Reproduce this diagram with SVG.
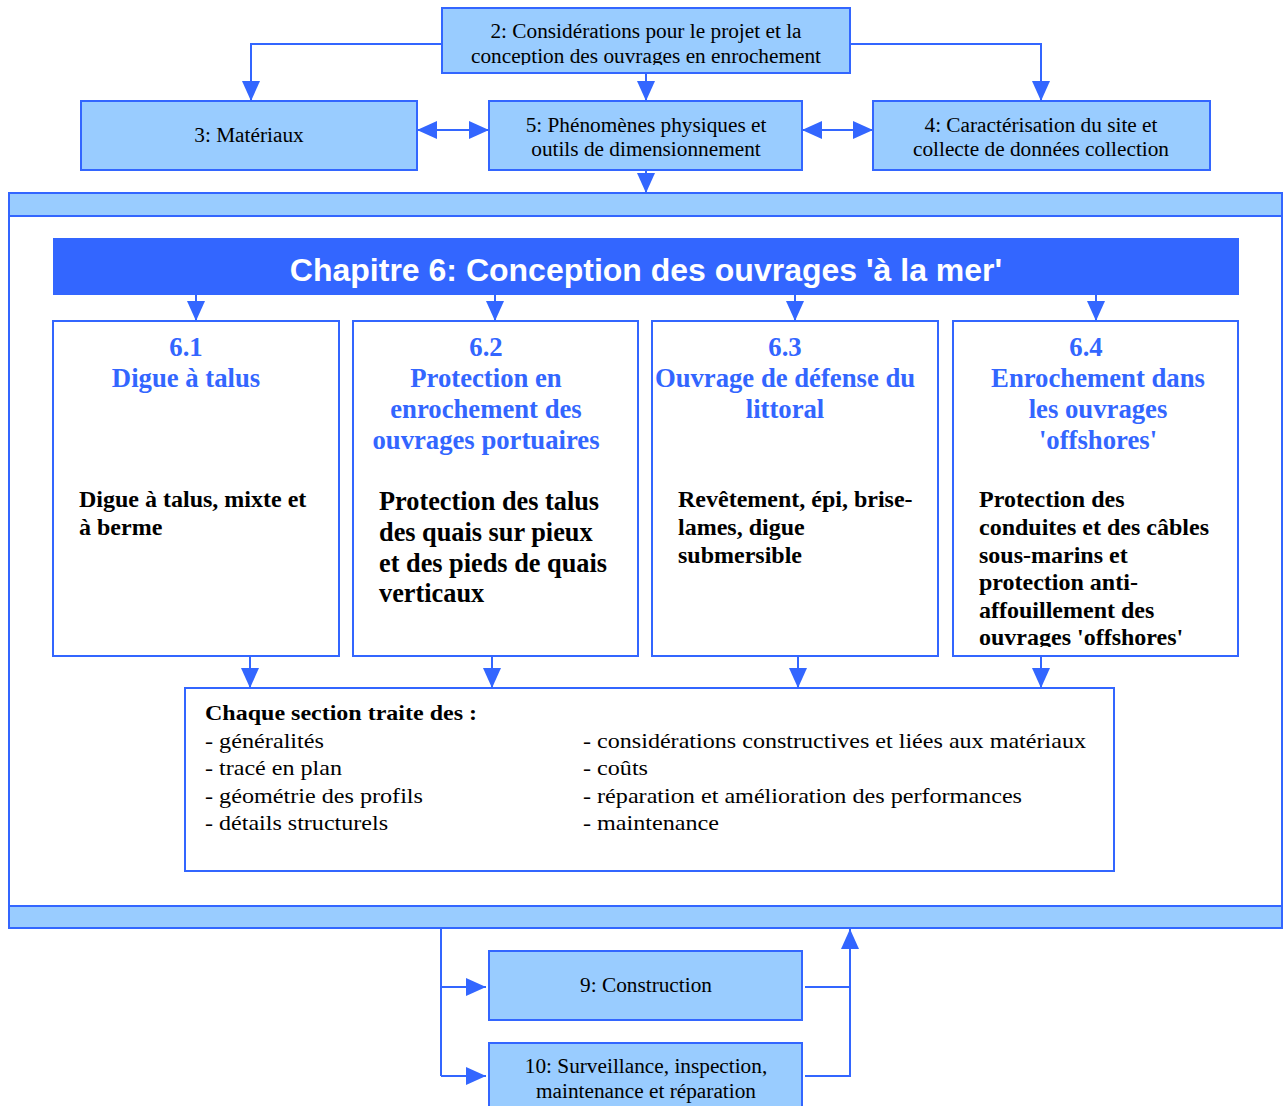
<svg xmlns="http://www.w3.org/2000/svg" width="1284" height="1106" viewBox="0 0 1284 1106">
<style>
.lb{fill:#99ccff;stroke:#3366ff;stroke-width:2}
.wb{fill:#ffffff;stroke:#3366ff;stroke-width:2}
.t{font-family:"Liberation Serif","Times New Roman",serif;font-size:21.3px;fill:#000}
.ti{font-family:"Liberation Serif","Times New Roman",serif;font-size:26.7px;font-weight:bold;fill:#3366ff}
.bd{font-family:"Liberation Serif","Times New Roman",serif;font-size:24px;font-weight:bold;fill:#000}
.bd2{font-family:"Liberation Serif","Times New Roman",serif;font-size:26.3px;font-weight:bold;fill:#000}
.st{font-family:"Liberation Serif","Times New Roman",serif;font-size:22px;fill:#000}
.c{stroke:#3366ff;stroke-width:2;fill:none}
</style>
<defs>
<marker id="ah" markerUnits="userSpaceOnUse" markerWidth="20" markerHeight="18" refX="20" refY="9" orient="auto-start-reverse">
<path d="M0,0 L20,9 L0,18 z" fill="#3366ff"/>
</marker>
<clipPath id="c2"><rect x="442" y="8" width="408" height="57"/></clipPath>
<clipPath id="c64"><rect x="953" y="321" width="285" height="326"/></clipPath>
</defs>
<rect width="1284" height="1106" fill="#ffffff"/>

<g id="frame">
<rect class="wb" x="9" y="193" width="1273" height="735"/>
<rect class="lb" x="9" y="193" width="1273" height="23"/>
<rect class="lb" x="9" y="906" width="1273" height="22"/>
</g>

<g id="n2">
<rect class="lb" x="442" y="8" width="408" height="65"/>
<g clip-path="url(#c2)">
<text class="t" x="646" y="38" text-anchor="middle" font-size="22.5">2: Considérations pour le projet et la</text>
<text class="t" x="646" y="63" text-anchor="middle" font-size="22.5">conception des ouvrages en enrochement</text>
</g>
</g>
<g id="n3">
<rect class="lb" x="81" y="101" width="336" height="69"/>
<text class="t" x="249" y="142" text-anchor="middle">3: Matériaux</text>
</g>
<g id="n5">
<rect class="lb" x="489" y="101" width="313" height="69"/>
<text class="t" x="646" y="132" text-anchor="middle">5: Phénomènes physiques et</text>
<text class="t" x="646" y="156" text-anchor="middle">outils de dimensionnement</text>
</g>
<g id="n4">
<rect class="lb" x="873" y="101" width="337" height="69"/>
<text class="t" x="1041" y="132" text-anchor="middle">4: Caractérisation du site et</text>
<text class="t" x="1041" y="156" text-anchor="middle">collecte de données collection</text>
</g>

<g id="banner">
<rect x="53" y="238" width="1186" height="57" fill="#3366ff"/>
<text x="646" y="281" text-anchor="middle" font-family="Liberation Sans, Arial, sans-serif" font-size="32" font-weight="bold" fill="#ffffff">Chapitre 6: Conception des ouvrages 'à la mer'</text>
</g>

<g id="s61">
<rect class="wb" x="53" y="321" width="286" height="335"/>
<text class="ti" x="186" y="356" text-anchor="middle">6.1</text>
<text class="ti" x="186" y="387" text-anchor="middle">Digue à talus</text>
<text class="bd" x="79" y="507">Digue à talus, mixte et</text>
<text class="bd" x="79" y="535">à berme</text>
</g>
<g id="s62">
<rect class="wb" x="353" y="321" width="285" height="335"/>
<text class="ti" x="486" y="356" text-anchor="middle">6.2</text>
<text class="ti" x="486" y="387" text-anchor="middle">Protection en</text>
<text class="ti" x="486" y="418" text-anchor="middle">enrochement des</text>
<text class="ti" x="486" y="449" text-anchor="middle">ouvrages portuaires</text>
<text class="bd2" x="379" y="510">Protection des talus</text>
<text class="bd2" x="379" y="541">des quais sur pieux</text>
<text class="bd2" x="379" y="572">et des pieds de quais</text>
<text class="bd2" x="379" y="602">verticaux</text>
</g>
<g id="s63">
<rect class="wb" x="652" y="321" width="286" height="335"/>
<text class="ti" x="785" y="356" text-anchor="middle">6.3</text>
<text class="ti" x="785" y="387" text-anchor="middle">Ouvrage de défense du</text>
<text class="ti" x="785" y="418" text-anchor="middle">littoral</text>
<text class="bd" x="678" y="507">Revêtement, épi, brise-</text>
<text class="bd" x="678" y="535">lames, digue</text>
<text class="bd" x="678" y="563">submersible</text>
</g>
<g id="s64">
<rect class="wb" x="953" y="321" width="285" height="335"/>
<text class="ti" x="1086" y="356" text-anchor="middle">6.4</text>
<text class="ti" x="1098" y="387" text-anchor="middle">Enrochement dans</text>
<text class="ti" x="1098" y="418" text-anchor="middle">les ouvrages</text>
<text class="ti" x="1098" y="449" text-anchor="middle">'offshores'</text>
<g clip-path="url(#c64)">
<text class="bd" x="979" y="507">Protection des</text>
<text class="bd" x="979" y="535">conduites et des câbles</text>
<text class="bd" x="979" y="563">sous-marins et</text>
<text class="bd" x="979" y="590">protection anti-</text>
<text class="bd" x="979" y="618">affouillement des</text>
<text class="bd" x="979" y="645">ouvrages 'offshores'</text>
</g>
</g>

<g id="sections">
<rect class="wb" x="185" y="688" width="929" height="183"/>
<text class="st" x="205" y="720" font-weight="bold" textLength="272" lengthAdjust="spacingAndGlyphs">Chaque section traite des :</text>
<text class="st" x="205" y="748" textLength="119" lengthAdjust="spacingAndGlyphs">- généralités</text>
<text class="st" x="205" y="775" textLength="137" lengthAdjust="spacingAndGlyphs">- tracé en plan</text>
<text class="st" x="205" y="803" textLength="218" lengthAdjust="spacingAndGlyphs">- géométrie des profils</text>
<text class="st" x="205" y="830" textLength="183" lengthAdjust="spacingAndGlyphs">- détails structurels</text>
<text class="st" x="583" y="748" textLength="503" lengthAdjust="spacingAndGlyphs">- considérations constructives et liées aux matériaux</text>
<text class="st" x="583" y="775" textLength="65" lengthAdjust="spacingAndGlyphs">- coûts</text>
<text class="st" x="583" y="803" textLength="439" lengthAdjust="spacingAndGlyphs">- réparation et amélioration des performances</text>
<text class="st" x="583" y="830" textLength="136" lengthAdjust="spacingAndGlyphs">- maintenance</text>
</g>

<g id="n9">
<rect class="lb" x="489" y="951" width="313" height="69"/>
<text class="t" x="646" y="992" text-anchor="middle">9: Construction</text>
</g>
<g id="n10">
<rect class="lb" x="489" y="1043" width="313" height="70"/>
<text class="t" x="646" y="1073" text-anchor="middle">10: Surveillance, inspection,</text>
<text class="t" x="646" y="1098" text-anchor="middle">maintenance et réparation</text>
</g>

<g id="connectors">
<path class="c" d="M442,44 H251 V101" marker-end="url(#ah)"/>
<path class="c" d="M850,44 H1041 V101" marker-end="url(#ah)"/>
<path class="c" d="M646,73 V101" marker-end="url(#ah)"/>
<path class="c" d="M417,130 H489" marker-start="url(#ah)" marker-end="url(#ah)"/>
<path class="c" d="M802,130 H873" marker-start="url(#ah)" marker-end="url(#ah)"/>
<path class="c" d="M646,170 V193" marker-end="url(#ah)"/>
<path class="c" d="M196,295 V321" marker-end="url(#ah)"/>
<path class="c" d="M495,295 V321" marker-end="url(#ah)"/>
<path class="c" d="M795,295 V321" marker-end="url(#ah)"/>
<path class="c" d="M1096,295 V321" marker-end="url(#ah)"/>
<path class="c" d="M250,656 V688" marker-end="url(#ah)"/>
<path class="c" d="M492,656 V688" marker-end="url(#ah)"/>
<path class="c" d="M798,656 V688" marker-end="url(#ah)"/>
<path class="c" d="M1041,656 V688" marker-end="url(#ah)"/>
<path class="c" d="M441,928 V1076"/>
<path class="c" d="M441,987 H486" marker-end="url(#ah)"/>
<path class="c" d="M441,1076 H486" marker-end="url(#ah)"/>
<path class="c" d="M805,987 H850"/>
<path class="c" d="M805,1076 H850 V929" marker-end="url(#ah)"/>
</g>
</svg>
